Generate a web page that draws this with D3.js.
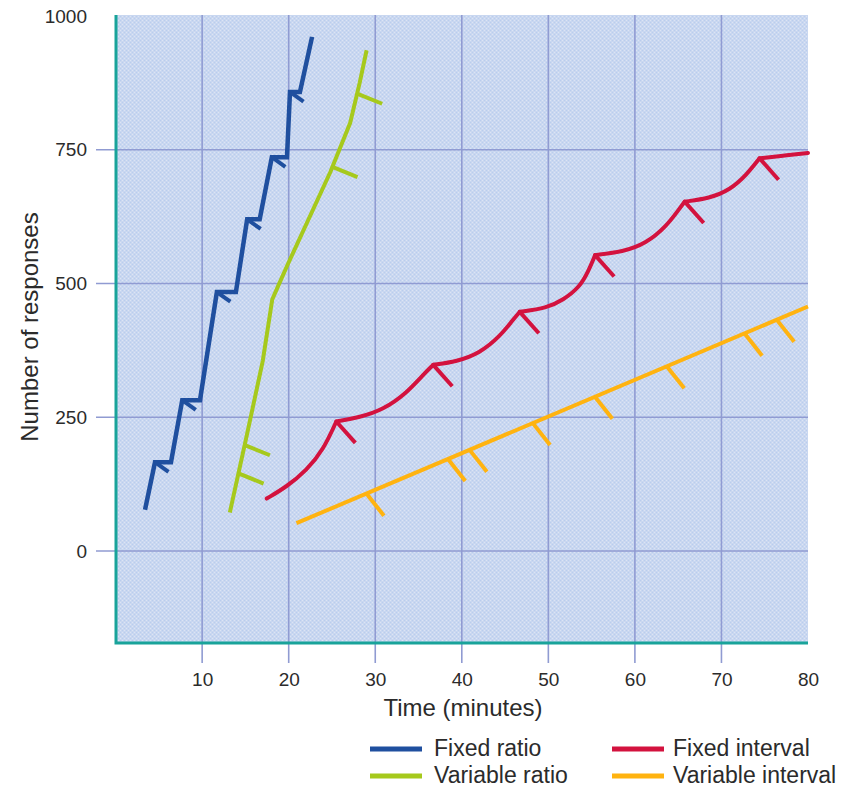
<!DOCTYPE html>
<html>
<head>
<meta charset="utf-8">
<script src="https://cdn.jsdelivr.net/npm/d3@7"></script>
<style>
  body { margin: 0; background: #fff; }
  svg text { font-family: "Liberation Sans", Arial, sans-serif; fill: #2b2b2b; }
</style>
</head>
<body>
<div id="plot"></div>
<script>
// Values, as [minutes, responses]
const fixedRatio = [[3.4, 77], [4.55, 166], [6.4, 166], [7.7, 282], [9.75, 282], [11.7, 484], [13.9, 484],
  [15.2, 620], [16.65, 620], [18.05, 736], [19.8, 736], [20.15, 858], [21.3, 858], [22.7, 961]];
const fixedRatioMarks = [[4.55, 166], [7.7, 282], [11.7, 484], [15.2, 620], [18.05, 736], [20.15, 858]];

const variableRatio = [[13.2, 72], [15.1, 212], [17.0, 355], [18.1, 470], [18.8, 496], [19.9, 536],
  [24.8, 708], [27.1, 800], [28.2, 875], [29.0, 936]];
const variableRatioMarks = [[14.2, 145], [14.93, 198], [25.05, 718], [27.9, 855]];

// fixed interval: one scallop per interval, between reinforcements
const fixedInterval = [
  [[17.45, 98], [19.76, 120], [22.07, 151], [24.0, 189], [25.5, 242]],
  [[25.5, 242], [28.2, 250], [30.9, 264], [33.6, 295], [35.5, 329], [36.7, 348]],
  [[36.7, 348], [39.4, 354], [42.1, 370], [44.4, 401], [45.9, 432], [46.7, 447]],
  [[46.7, 447], [49.8, 454], [51.7, 469], [53.6, 493], [54.6, 522], [55.4, 553]],
  [[55.4, 553], [58.6, 559], [61.3, 575], [63.6, 606], [65.2, 641], [65.75, 653]],
  [[65.75, 653], [68.6, 659], [71.0, 675], [72.9, 703], [74.4, 734]],
  [[74.4, 734], [76.7, 738], [80, 744]]
];
const fixedIntervalMarks = [[25.5, 242], [36.7, 348], [46.7, 447], [55.4, 553], [65.75, 653], [74.4, 734]];

const variableInterval = [[20.9, 52], [80, 457]];
const variableIntervalMarks = [[29.0, 107], [38.4, 172], [40.9, 189], [48.2, 239], [55.4, 288],
  [63.7, 345], [72.7, 406], [76.4, 432]];

const xTicks = [10, 20, 30, 40, 50, 60, 70, 80];
const yTicks = [0, 250, 500, 750, 1000];
const xGrid = [10, 20, 30, 40, 50, 60, 70];
const yGrid = [0, 250, 500, 750];

const legendNames = ["Fixed ratio", "Variable ratio", "Fixed interval", "Variable interval"];

// Set up
const W = 867, H = 787;
const plotLeft = 116, plotRight = 808, plotTop = 15, plotBottom = 643;
const colors = { fr: "#1f4f9f", vr: "#a6c91c", fi: "#d3123e", vi: "#ffb310" };

const svg = d3.select("#plot").append("svg")
  .attr("width", W)
  .attr("height", H);

const x = d3.scaleLinear().domain([0, 80]).range([115.6, 808]);
const y = d3.scaleLinear().domain([0, 1000]).range([551, 16]);

// textured background
const defs = svg.append("defs");
const pat = defs.append("pattern")
  .attr("id", "dots")
  .attr("width", 4).attr("height", 4)
  .attr("patternUnits", "userSpaceOnUse");
pat.append("rect").attr("width", 4).attr("height", 4).attr("fill", "#c9d7f0");
pat.append("rect").attr("x", 0).attr("y", 0).attr("width", 1).attr("height", 1).attr("fill", "#b9cdee");
pat.append("rect").attr("x", 2).attr("y", 2).attr("width", 1).attr("height", 1).attr("fill", "#b9cdee");
pat.append("rect").attr("x", 2).attr("y", 0).attr("width", 1).attr("height", 1).attr("fill", "#dce4f4");
pat.append("rect").attr("x", 0).attr("y", 2).attr("width", 1).attr("height", 1).attr("fill", "#dce4f4");

svg.append("rect")
  .attr("x", plotLeft).attr("y", plotTop)
  .attr("width", plotRight - plotLeft).attr("height", plotBottom - plotTop)
  .attr("fill", "url(#dots)");

// grid (runs past the frame as tick marks)
svg.append("g").selectAll("line")
  .data(xGrid)
  .join("line")
  .attr("x1", d => x(d)).attr("x2", d => x(d))
  .attr("y1", plotTop).attr("y2", plotBottom + 20)
  .attr("stroke", "#909bd2")
  .attr("stroke-width", 1.6);

svg.append("g").selectAll("line")
  .data(yGrid)
  .join("line")
  .attr("x1", 96).attr("x2", plotRight)
  .attr("y1", d => y(d)).attr("y2", d => y(d))
  .attr("stroke", "#909bd2")
  .attr("stroke-width", 1.6);

// frame
svg.append("path")
  .attr("d", `M${plotLeft},${plotTop}V${plotBottom}H${plotRight}`)
  .attr("fill", "none")
  .attr("stroke", "#19a39a")
  .attr("stroke-width", 3);

// Axes labels via d3 axes
const yAxis = svg.append("g")
  .attr("transform", "translate(96,0)")
  .call(d3.axisLeft(y).tickValues(yTicks).tickFormat(d3.format("d")).tickSize(0).tickPadding(9));
yAxis.select(".domain").remove();
yAxis.attr("font-family", null).attr("font-size", null);
yAxis.selectAll("text").style("font-size", "19px").attr("fill", "#2b2b2b");

const xAxis = svg.append("g")
  .attr("transform", `translate(0,${plotBottom + 20})`)
  .call(d3.axisBottom(x).tickValues(xTicks).tickSize(0).tickPadding(10));
xAxis.select(".domain").remove();
xAxis.attr("font-family", null).attr("font-size", null);
xAxis.selectAll("text").style("font-size", "19px").attr("fill", "#2b2b2b");

svg.append("text")
  .attr("x", 463).attr("y", 716)
  .attr("text-anchor", "middle")
  .style("font-size", "24px")
  .text("Time (minutes)");

svg.append("text")
  .attr("transform", "translate(38,327) rotate(-90)")
  .attr("text-anchor", "middle")
  .style("font-size", "24px")
  .text("Number of responses");

// Lines
const line = d3.line().x(d => x(d[0])).y(d => y(d[1]));
const smooth = d3.line().x(d => x(d[0])).y(d => y(d[1])).curve(d3.curveBasis);

function marks(data, dt, dr, color) {
  svg.append("g").selectAll("line")
    .data(data)
    .join("line")
    .attr("x1", d => x(d[0])).attr("y1", d => y(d[1]))
    .attr("x2", d => x(d[0] + dt)).attr("y2", d => y(d[1] + dr))
    .attr("stroke", color)
    .attr("stroke-width", 4);
}

// variable interval
svg.append("path")
  .attr("d", line(variableInterval))
  .attr("fill", "none").attr("stroke", colors.vi).attr("stroke-width", 4);
marks(variableIntervalMarks, 2.0, -41, colors.vi);

// fixed interval
svg.append("g").selectAll("path")
  .data(fixedInterval)
  .join("path")
  .attr("d", d => smooth(d))
  .attr("fill", "none").attr("stroke", colors.fi).attr("stroke-width", 4)
  .attr("stroke-linecap", "round");
marks(fixedIntervalMarks, 2.2, -40, colors.fi);

// variable ratio
svg.append("path")
  .attr("d", line(variableRatio))
  .attr("fill", "none").attr("stroke", colors.vr).attr("stroke-width", 4)
  .attr("stroke-linejoin", "round");
marks(variableRatioMarks, 2.9, -19, colors.vr);

// fixed ratio
svg.append("path")
  .attr("d", line(fixedRatio))
  .attr("fill", "none").attr("stroke", colors.fr).attr("stroke-width", 4.5)
  .attr("stroke-linejoin", "miter");
marks(fixedRatioMarks, 1.56, -18, colors.fr);

// Legend
const legendColors = [colors.fr, colors.vr, colors.fi, colors.vi];
const legend = svg.append("g").selectAll("g")
  .data(legendNames)
  .join("g")
  .attr("transform", (d, i) => `translate(${i < 2 ? 370 : 612},${i % 2 === 0 ? 749 : 776})`);
legend.append("line")
  .attr("x1", 0).attr("x2", 52)
  .attr("stroke", (d, i) => legendColors[i])
  .attr("stroke-width", 5);
legend.append("text")
  .attr("x", (d, i) => i < 2 ? 64 : 61)
  .attr("y", 7)
  .style("font-size", "23px")
  .text(d => d);
</script>
</body>
</html>
